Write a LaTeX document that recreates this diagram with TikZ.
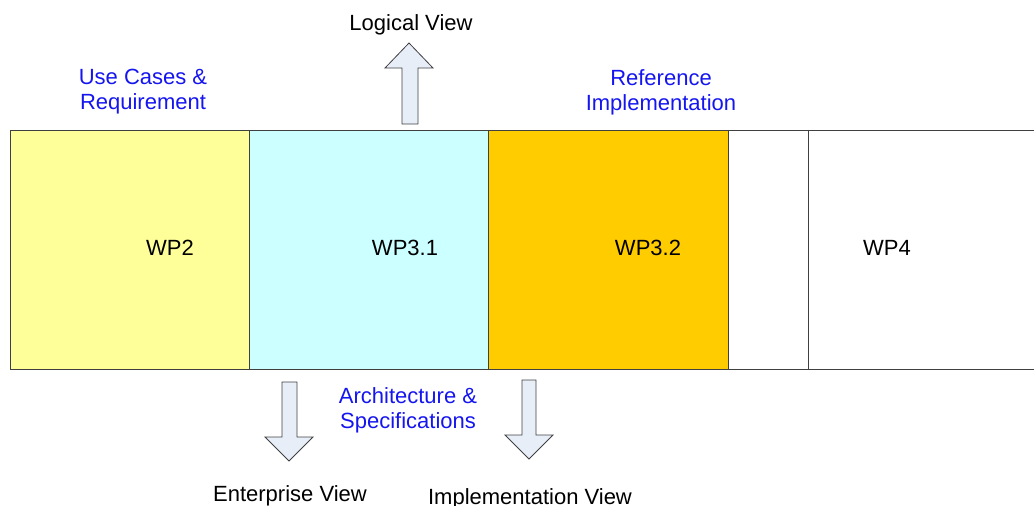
\documentclass[tikz,border=0pt]{standalone}
\usepackage{fontspec}
\setmainfont{Liberation Sans}
\definecolor{wpyellow}{HTML}{FFFF99}
\definecolor{wpcyan}{HTML}{CCFFFF}
\definecolor{wporange}{HTML}{FFCC00}
\definecolor{arrowfill}{HTML}{E8EEF8}
\definecolor{edge}{HTML}{404040}
\definecolor{labelblue}{HTML}{1515F0}
\begin{document}
\begin{tikzpicture}[x=1pt,y=-1pt,
  wpbox/.style={draw=edge,line width=1pt},
  txt/.style={font=\fontsize{22}{25}\selectfont,inner sep=0pt,align=center},
  bluetxt/.style={txt,text=labelblue},
  fatarrow/.style={draw=edge,fill=arrowfill,line width=0.8pt,line join=miter}]
\useasboundingbox (0,0) rectangle (1034,506);
% work package strip
\draw[wpbox,fill=wpyellow] (10,130) rectangle (249,369);
\draw[wpbox,fill=wpcyan] (249,130) rectangle (488,369);
\draw[wpbox,fill=wporange] (488,130) rectangle (728,369);
\draw[wpbox,fill=white] (728,130) rectangle (808,369);
\draw[wpbox,fill=white] (808,130) -- (1040,130) (808,130) -- (808,369) -- (1040,369);
\node[txt] (wp2) at (170,248) {WP2};
\node[txt] (wp31) at (405,248) {WP3.1};
\node[txt] (wp32) at (648,248) {WP3.2};
\node[txt] (wp4) at (887,248) {WP4};
% block arrows
\draw[fatarrow] (402,124) -- (402,68) -- (385,68) -- (409,43) -- (433,68) -- (418,68) -- (418,124) -- cycle;
\draw[fatarrow] (282,382) -- (282,437) -- (265,437) -- (289,461) -- (313,437) -- (297,437) -- (297,382) -- cycle;
\draw[fatarrow] (522,380) -- (522,435) -- (505,435) -- (529,459) -- (553,435) -- (536,435) -- (536,380) -- cycle;
% labels
\node[txt] (logical) at (411,25) {Logical View};
\node[bluetxt] (usecases) at (143,92) {Use Cases \&\\Requirement};
\node[bluetxt] (refimpl) at (661,92) {Reference\\Implementation};
\node[bluetxt] (archspec) at (408,410) {Architecture \&\\Specifications};
\node[txt] (enterprise) at (290,495.5) {Enterprise View};
\node[txt] (implview) at (530,499) {Implementation View};
\end{tikzpicture}
\end{document}
